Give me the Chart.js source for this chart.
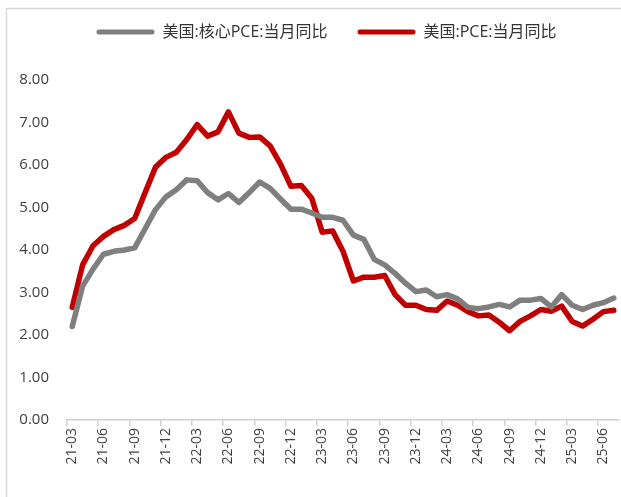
<!DOCTYPE html>
<html>
<head>
<meta charset="utf-8">
<script src="https://cdn.jsdelivr.net/npm/chart.js@4.4.1/dist/chart.umd.min.js"></script>
<style>
  html, body { margin: 0; padding: 0; background: #fff; }
  #wrap { position: relative; width: 621px; height: 497px; }
</style>
</head>
<body>
<div id="wrap"><canvas id="pceChart"></canvas></div>
<script>
// Meses (eje X)
const meses = [
    '21-03', '21-04', '21-05', '21-06', '21-07', '21-08', '21-09', '21-10', '21-11', '21-12',
    '22-01', '22-02', '22-03', '22-04', '22-05', '22-06', '22-07', '22-08', '22-09', '22-10', '22-11', '22-12',
    '23-01', '23-02', '23-03', '23-04', '23-05', '23-06', '23-07', '23-08', '23-09', '23-10', '23-11', '23-12',
    '24-01', '24-02', '24-03', '24-04', '24-05', '24-06', '24-07', '24-08', '24-09', '24-10', '24-11', '24-12',
    '25-01', '25-02', '25-03', '25-04', '25-05', '25-06', '25-07'
];

// 美国:核心PCE:当月同比
const pceCore = [
    2.20, 3.15, 3.55, 3.90, 3.97, 4.00, 4.05, 4.50, 4.95, 5.25,
    5.42, 5.65, 5.63, 5.35, 5.18, 5.33, 5.12, 5.35, 5.60, 5.45, 5.20, 4.96,
    4.96, 4.87, 4.77, 4.77, 4.70, 4.35, 4.25, 3.78, 3.65, 3.45, 3.22, 3.02,
    3.06, 2.90, 2.95, 2.85, 2.65, 2.62, 2.66, 2.72, 2.66, 2.82, 2.82, 2.86,
    2.66, 2.95, 2.70, 2.60, 2.70, 2.76, 2.87
];

// 美国:PCE:当月同比
const pceTotal = [
    2.65, 3.65, 4.10, 4.32, 4.48, 4.58, 4.74, 5.35, 5.95, 6.18,
    6.30, 6.60, 6.95, 6.68, 6.78, 7.25, 6.75, 6.65, 6.66, 6.45, 6.02, 5.50,
    5.52, 5.22, 4.42, 4.45, 3.97, 3.27, 3.36, 3.36, 3.40, 2.95, 2.70, 2.70,
    2.60, 2.58, 2.80, 2.70, 2.55, 2.45, 2.47, 2.30, 2.10, 2.32, 2.45, 2.60,
    2.56, 2.68, 2.32, 2.21, 2.37, 2.55, 2.58
];

const yTicksMax = 8;

const COLOR_CORE = '#7f7f7f';
const COLOR_TOTAL = '#c00000';
const FONT_FAMILY = "'Open Sans', 'Noto Sans CJK SC', sans-serif";

// Marco gris claro y fondo blanco
const framePlugin = {
    id: 'frame',
    beforeDraw(chart) {
        const ctx = chart.ctx;
        ctx.save();
        ctx.fillStyle = '#ffffff';
        ctx.fillRect(0, 0, chart.width, chart.height);
        ctx.strokeStyle = '#d9d9d9';
        ctx.lineWidth = 1.5;
        ctx.beginPath();
        ctx.moveTo(6.5, chart.height);
        ctx.lineTo(6.5, 8.5);
        ctx.lineTo(chart.width, 8.5);
        ctx.stroke();
        ctx.restore();
    }
};

// Más espacio bajo la leyenda y ligero desplazamiento a la derecha
const legendAdjust = {
    id: 'legendAdjust',
    beforeInit(chart) {
        const lg = chart.legend;
        if (!lg) return;
        const originalFit = lg.fit;
        lg.fit = function () {
            originalFit.bind(lg)();
            this.height += 30;
        };
    },
    afterLayout(chart) {
        const lg = chart.legend;
        if (lg) {
            lg.left += 17;
            lg.right += 17;
        }
    }
};

new Chart(document.getElementById('pceChart'), {
    type: 'line',
    data: {
        labels: meses,
        datasets: [
            {
                label: '美国:核心PCE:当月同比',
                data: pceCore,
                borderColor: COLOR_CORE,
                backgroundColor: COLOR_CORE,
                borderWidth: 5.5,
                pointRadius: 0,
                tension: 0,
                borderJoinStyle: 'round',
                borderCapStyle: 'round'
            },
            {
                label: '美国:PCE:当月同比',
                data: pceTotal,
                borderColor: COLOR_TOTAL,
                backgroundColor: COLOR_TOTAL,
                borderWidth: 5.5,
                pointRadius: 0,
                tension: 0,
                borderJoinStyle: 'round',
                borderCapStyle: 'round'
            }
        ]
    },
    options: {
        responsive: true,
        maintainAspectRatio: false,
        animation: false,
        layout: { padding: { top: -6, left: 0, right: 2, bottom: 0 } },
        plugins: {
            legend: {
                position: 'top',
                labels: {
                    boxWidth: 58,
                    boxHeight: 5,
                    padding: 30,
                    color: '#333333',
                    font: { family: FONT_FAMILY, size: 16 },
                    useBorderRadius: true,
                    borderRadius: 2.5,
                    generateLabels: function (chart) {
                        const items = Chart.defaults.plugins.legend.labels.generateLabels(chart);
                        items.forEach(it => { it.lineWidth = 0; });
                        return items;
                    }
                }
            },
            tooltip: { enabled: false }
        },
        scales: {
            x: {
                type: 'category',
                offset: true,
                border: { display: true, color: '#d0d0d0', width: 1.5 },
                grid: {
                    display: true,
                    offset: true,
                    drawOnChartArea: false,
                    drawTicks: true,
                    tickLength: 6,
                    lineWidth: 1.5,
                    color: (ctx) => (ctx.index % 3 === 0 ? '#d0d0d0' : 'rgba(0,0,0,0)')
                },
                ticks: {
                    autoSkip: false,
                    maxRotation: 90,
                    minRotation: 90,
                    padding: 2,
                    color: '#404040',
                    font: { family: FONT_FAMILY, size: 14 },
                    callback: function (value, index) {
                        return index % 3 === 0 ? this.getLabelForValue(value) : '';
                    }
                },
                afterFit: function (scale) {
                    scale.height = 77;
                    scale.paddingLeft = 0;
                    scale.paddingRight = 0;
                }
            },
            y: {
                min: 0,
                max: yTicksMax,
                border: { display: false },
                grid: { display: false },
                ticks: {
                    stepSize: 1,
                    padding: 10,
                    color: '#404040',
                    font: { family: FONT_FAMILY, size: 15 },
                    callback: (value) => Number(value).toFixed(2)
                },
                afterFit: function (scale) {
                    scale.width = 67;
                }
            }
        }
    },
    plugins: [framePlugin, legendAdjust]
});
</script>
</body>
</html>
